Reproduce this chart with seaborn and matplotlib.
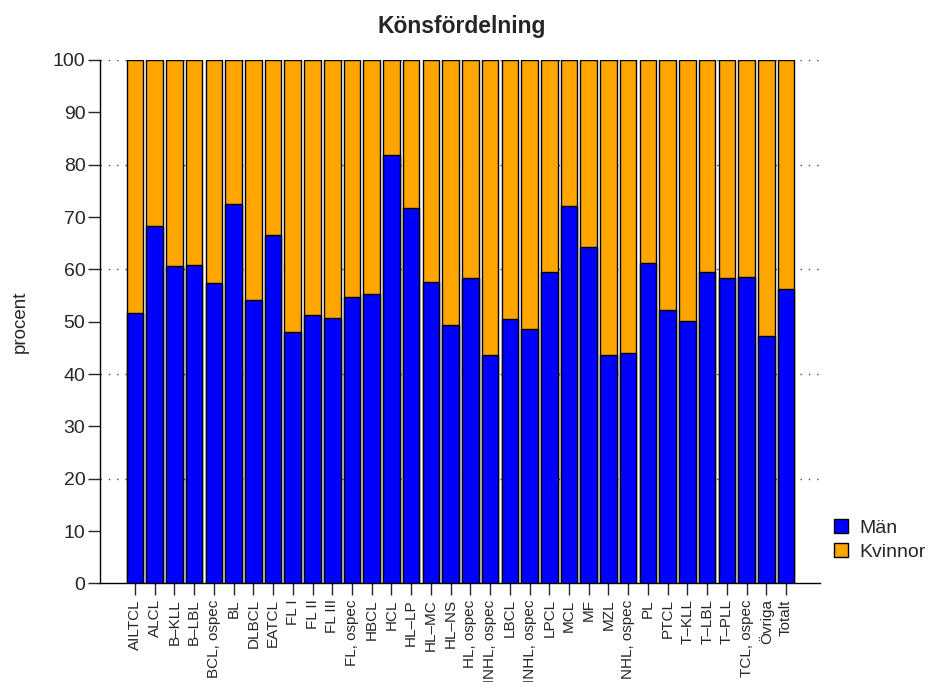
import matplotlib
matplotlib.use("Agg")
import matplotlib.pyplot as plt
from matplotlib.patches import Patch
import seaborn as sns
import pandas as pd

categories = ["AILTCL", "ALCL", "B–KLL", "B–LBL", "BCL, ospec", "BL", "DLBCL", "EATCL",
              "FL I", "FL II", "FL III", "FL, ospec", "HBCL", "HCL", "HL–LP", "HL–MC",
              "HL–NS", "HL, ospec", "HNHL, ospec", "LBCL", "INHL, ospec", "LPCL", "MCL",
              "MF", "MZL", "NHL, ospec", "PL", "PTCL", "T–KLL", "T–LBL", "T–PLL",
              "TCL, ospec", "Övriga", "Totalt"]
man = [51.7, 68.3, 60.6, 60.9, 57.4, 72.4, 54.1, 66.6, 48.0, 51.2, 50.7, 54.8, 55.2,
       81.8, 71.8, 57.6, 49.4, 58.3, 43.6, 50.5, 48.7, 59.5, 72.2, 64.3, 43.7, 44.1,
       61.3, 52.3, 50.1, 59.5, 58.4, 58.5, 47.3, 56.3]
total = [100] * len(categories)
grid_levels = [20, 40, 60, 80, 100]

blue = "#0000FF"
orange = "#FFA500"

df = pd.DataFrame({"kategori": categories, "Män": man, "Totalt": total})

sns.set_style("white")
plt.rcParams['font.family'] = ['Liberation Sans', 'DejaVu Sans']

W, H = 935, 682
fig = plt.figure(figsize=(W / 100, H / 100), dpi=100)
ax = fig.add_axes([100 / W, 1 - 583.4 / H, 720 / W, (583.4 - 60) / H])

for lvl in grid_levels:
    ax.axhline(lvl, color="#444444", lw=1, linestyle=(0, (1, 5)), zorder=0)

sns.barplot(data=df, x="kategori", y="Totalt", color=orange, saturation=1,
            width=0.84, edgecolor="black", linewidth=1, ax=ax, zorder=2)
sns.barplot(data=df, x="kategori", y="Män", color=blue, saturation=1,
            width=0.84, edgecolor="black", linewidth=1, ax=ax, zorder=3)

ax.set_xlim(-1.77, 34.72)
ax.set_ylim(0, 100)
ax.set_yticks(range(0, 101, 10))
ax.set_xlabel("")
ax.set_ylabel("procent", fontsize=13.5, labelpad=17)
ax.tick_params(axis="y", labelsize=14, length=8.5, width=1, pad=2, direction="out", left=True)
ax.tick_params(axis="x", labelsize=11, length=8.5, width=1, pad=3, direction="out", bottom=True,
               labelrotation=90)
for lab in ax.get_xticklabels():
    lab.set_verticalalignment("top")

sns.despine(ax=ax)
for side in ["left", "bottom"]:
    ax.spines[side].set_color("black")
    ax.spines[side].set_linewidth(1)

fig.text(462 / W, 1 - 27 / H, "Könsfördelning", fontsize=16.5, fontweight="bold",
         ha="center", va="center")

handles = [Patch(facecolor=blue, edgecolor="black", label="Män"),
           Patch(facecolor=orange, edgecolor="black", label="Kvinnor")]
fig.legend(handles=handles, loc="center left", bbox_to_anchor=(816 / W, 1 - 540 / H),
           frameon=False, fontsize=14, handlelength=0.75, handleheight=0.75,
           handletextpad=0.6, labelspacing=0.3)

fig.savefig("out.png", dpi=100)
